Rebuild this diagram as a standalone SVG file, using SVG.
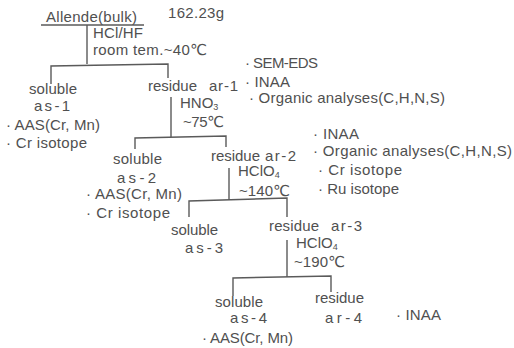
<svg xmlns="http://www.w3.org/2000/svg" width="514" height="348" viewBox="0 0 514 348">
<style>
text{font-family:"Liberation Sans","DejaVu Sans",Arial,sans-serif;font-size:15px;fill:#505050}
.sub{font-size:9px}
.ln{stroke:#5a5a5a;stroke-width:1.4;fill:none}
</style>
<rect width="514" height="348" fill="#ffffff"/>
<g id="connectors" class="ln">
<path d="M41 25H144"/>
<path d="M87 25V64"/>
<path d="M51 84V66L168 64V78"/>
<path d="M171 97V137"/>
<path d="M135 149V138L226 136V147"/>
<path d="M229 168V200"/>
<path d="M189 217V201L287 198V217"/>
<path d="M287 240V277"/>
<path d="M233 296V278L331 276V292"/>
</g>
<g id="allende">
<text x="46" y="22" textLength="91">Allende(bulk)</text>
<text x="168" y="18" textLength="56">162.23g</text>
</g>
<g id="step1">
<text x="93" y="38" textLength="50">HCl/HF</text>
<text x="93" y="55" textLength="114">room tem.~40℃</text>
</g>
<g id="as1">
<text x="29" y="94" textLength="48">soluble</text>
<text x="34" y="111" textLength="36">as-1</text>
<text x="6" y="130" textLength="94">· AAS(Cr, Mn)</text>
<text x="6" y="148" textLength="81">· Cr isotope</text>
</g>
<g id="ar1">
<text x="148" y="91" textLength="49">residue</text>
<text x="209" y="91" textLength="29">ar-1</text>
<text x="245" y="68" textLength="73">· SEM-EDS</text>
<text x="245" y="87" textLength="45">· INAA</text>
<text x="249" y="103" textLength="196">· Organic analyses(C,H,N,S)</text>
</g>
<g id="step2">
<text x="180" y="108">HNO<tspan class="sub" dy="2">3</tspan></text>
<text x="183" y="127" textLength="41">~75℃</text>
</g>
<g id="as2">
<text x="113" y="164" textLength="49">soluble</text>
<text x="117" y="183" textLength="39">as-2</text>
<text x="86" y="199" textLength="96">· AAS(Cr, Mn)</text>
<text x="86" y="218" textLength="84">· Cr isotope</text>
</g>
<g id="ar2">
<text x="211" y="161" textLength="49">residue</text>
<text x="265" y="161" textLength="31">ar-2</text>
<text x="313" y="139" textLength="46">· INAA</text>
<text x="313" y="156" textLength="199">· Organic analyses(C,H,N,S)</text>
<text x="318" y="175" textLength="84">· Cr isotope</text>
<text x="318" y="194" textLength="81">· Ru isotope</text>
</g>
<g id="step3">
<text x="238" y="176">HClO<tspan class="sub" dy="2">4</tspan></text>
<text x="239" y="196" textLength="51">~140℃</text>
</g>
<g id="as3">
<text x="171" y="235" textLength="47">soluble</text>
<text x="185" y="253" textLength="38">as-3</text>
</g>
<g id="ar3">
<text x="269" y="231" textLength="50">residue</text>
<text x="331" y="231" textLength="31">ar-3</text>
</g>
<g id="step4">
<text x="296" y="248">HClO<tspan class="sub" dy="2">4</tspan></text>
<text x="294" y="267" textLength="51">~190℃</text>
</g>
<g id="as4">
<text x="215" y="307" textLength="48">soluble</text>
<text x="230" y="323" textLength="37">as-4</text>
<text x="202" y="343" textLength="91">· AAS(Cr, Mn)</text>
</g>
<g id="ar4">
<text x="315" y="303" textLength="49">residue</text>
<text x="325" y="323" textLength="37">ar-4</text>
<text x="396" y="320" textLength="45">· INAA</text>
</g>
</svg>
